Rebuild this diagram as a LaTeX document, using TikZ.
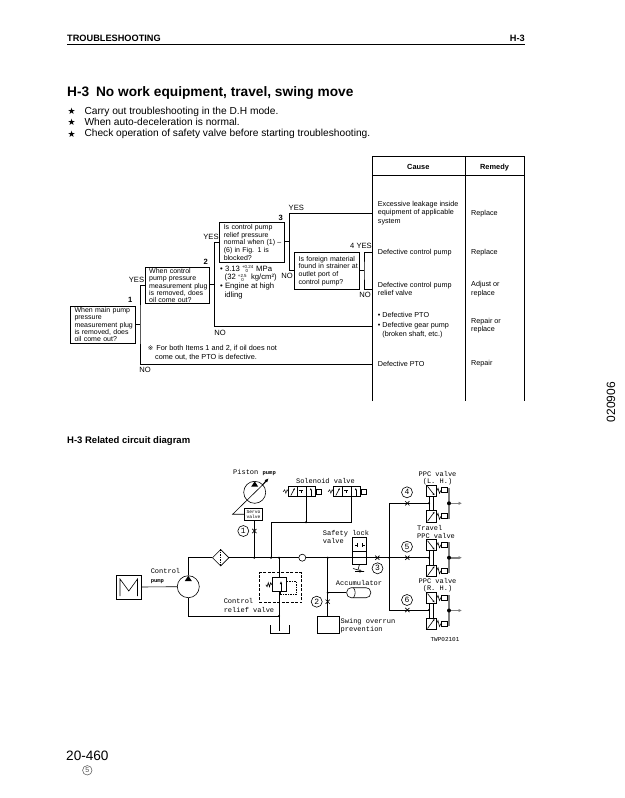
\documentclass[tikz,border=0pt]{standalone}
\usepackage{fontspec}
\setmainfont{Liberation Sans}
\newfontfamily\mono{Liberation Mono}
\newfontfamily\dejavu{DejaVu Sans}
\usetikzlibrary{shapes.geometric,shapes.misc,arrows.meta}
\tikzset{
 qbox/.style={draw,line width=1pt,anchor=north west,inner sep=0pt,align=left,font=\fontsize{7}{7.3}\selectfont},
 txt/.style={anchor=west,inner sep=0pt,align=left},
 flowtxt/.style={txt,font=\fontsize{7.4}{8.8}\selectfont},
 lab/.style={anchor=center,inner sep=0pt,font=\fontsize{7.6}{8}\selectfont},
 num/.style={anchor=center,inner sep=0pt,font=\bfseries\fontsize{7.6}{8}\selectfont},
 flow/.style={line width=0.9pt},
 tableline/.style={line width=0.9pt},
 circ/.style={anchor=center,inner sep=0pt,align=left,font=\mono\fontsize{7}{8.2}\selectfont},
 hyd/.style={line width=0.6pt},
 numc/.style={draw,circle,line width=0.6pt,minimum size=11pt,inner sep=0pt,font=\mono\fontsize{8}{8}\selectfont},
 cross/.style={cross out,draw,line width=0.7pt,minimum size=3.5pt,inner sep=0pt},
 dot/.style={circle,fill=black,minimum size=2.2pt,inner sep=0pt},
}
\newcommand{\stk}[2]{\smash{\rlap{\raisebox{2.3pt}{\fontsize{4.4}{5}\selectfont #1}}\raisebox{-1.6pt}{\fontsize{4.4}{5}\selectfont\hspace{3.5pt}#2}}}
\newcommand{\solv}[1]{%
 \begin{scope}[shift={(#1,0)},hyd]
  \draw[line width=0.8pt] (0,486.7) rectangle (26.7,496.7);
  \draw (8.7,486.7)--(8.7,496.7) (17.7,486.7)--(17.7,496.7);
  \draw[-{Latex[length=2pt,width=2pt]}] (2.5,495.5)--(6.5,488);
  \draw (11,490.5)--(15,490.5) (13,490.5)--(13,493);
  \draw[-{Latex[length=2pt,width=2pt]}] (22.5,495.5)--(22.5,488);
  \draw[line width=0.45pt] (0,491.7)--(-1.2,489.7)--(-2.4,493.3)--(-3.6,489.7)--(-5.2,491.7);
  \draw[line width=1pt] (28.4,489)rectangle(33.4,494);
  \draw (26.7,491.5)--(28.4,491.5);
 \end{scope}}
\newcommand{\ppc}[1]{%
 \begin{scope}[shift={(0,#1)},hyd]
  \draw[line width=0.8pt] (426,-18.3) rectangle (436.5,-7);
  \draw[line width=0.8pt] (426,7.4) rectangle (436.5,19);
  \draw[-{Latex[length=2pt,width=2pt]}] (427.5,-17)--(434.5,-8);
  \draw[-{Latex[length=2pt,width=2pt]}] (427.5,18)--(434.5,8.5);
  \draw (429,-7)--(429,7.4);
  \draw[line width=1pt] (433,-7)--(433,7.4);
  \draw (436.5,-12)--(438,-15)--(439.5,-10)--(441,-13);
  \draw (436.5,13)--(438,10)--(439.5,16)--(441,13);
  \draw[line width=0.9pt] (441,-15.5) rectangle (447.5,-10.5);
  \draw[line width=0.9pt] (441,10.5) rectangle (447.5,15.5);
  \draw[line width=2pt,black!50] (449,-15.5)--(449,15.5);
  \draw[line width=1.6pt,black!50,-{Latex[length=3.5pt,width=3.5pt]}] (449,0)--(462,0);
  \fill (449,0) circle (2);
 \end{scope}}
\begin{document}
\begin{tikzpicture}[x=1pt,y=-1pt]
\useasboundingbox (0,0) rectangle (624,798);
% page header
\node[txt,font=\bfseries\fontsize{9.2}{10}\selectfont] (hdr) at (67,38.5) {TROUBLESHOOTING};
\node[anchor=east,inner sep=0pt,font=\bfseries\fontsize{9.2}{10}\selectfont] (hdrr) at (525,38.5) {H-3};
\draw[line width=1pt] (67,44.5)--(525,44.5);
\node[txt,font=\bfseries\fontsize{13.7}{15}\selectfont] (title) at (67,92.7) {H-3\hspace{3pt} No work equipment, travel, swing move};
\foreach \y/\t [count=\i] in {111.7/Carry out troubleshooting in the D.H mode.,122.3/When auto-deceleration is normal.,134/Check operation of safety valve before starting troubleshooting.}{
 \node[txt,font=\dejavu\fontsize{9}{10}\selectfont] (st\i) at (67.5,\y) {★};
 \node[txt,font=\fontsize{10.2}{11}\selectfont] (bl\i) at (84.3,\y) {\t};
}
% table
\draw[tableline] (372,401)--(372,156.7)--(524,156.7)--(524,401);
\draw[tableline] (372,175.5)--(524,175.5) (465.3,156.7)--(465.3,401);
\node[num,font=\bfseries\fontsize{7.4}{8}\selectfont] (cause) at (418.3,167.3) {Cause};
\node[num,font=\bfseries\fontsize{7.4}{8}\selectfont] (remedy) at (494.5,167.3) {Remedy};
\node[flowtxt,font=\fontsize{7.2}{8.7}\selectfont] (c1) at (377.7,213) {Excessive leakage inside\\equipment of applicable\\system};
\node[flowtxt,font=\fontsize{7.2}{8.7}\selectfont] (c2) at (377.7,252.7) {Defective control pump};
\node[flowtxt,font=\fontsize{7.2}{8.7}\selectfont] (c3) at (377.7,289) {Defective control pump\\relief valve};
\node[flowtxt,font=\fontsize{7.2}{9.2}\selectfont] (c4) at (377.7,325.3) {• Defective PTO\\• Defective gear pump\\\hspace*{4.5pt}(broken shaft, etc.)};
\node[flowtxt,font=\fontsize{7.2}{8.7}\selectfont] (c5) at (377.7,363.7) {Defective PTO};
\node[flowtxt,font=\fontsize{7.2}{8.7}\selectfont] (r1) at (471,213.5) {Replace};
\node[flowtxt,font=\fontsize{7.2}{8.7}\selectfont] (r2) at (471,253) {Replace};
\node[flowtxt,font=\fontsize{7.2}{8.7}\selectfont] (r3) at (471,289) {Adjust or\\replace};
\node[flowtxt,font=\fontsize{7.2}{8.7}\selectfont] (r4) at (471,325.5) {Repair or\\replace};
\node[flowtxt,font=\fontsize{7.2}{8.7}\selectfont] (r5) at (471,363.7) {Repair};
% question boxes
\node[qbox,minimum width=65pt,minimum height=37.5pt,text width=62pt] (q1) at (70,305.5) {\hspace*{2.5pt}When main pump\\\hspace*{2.5pt}pressure\\\hspace*{2.5pt}measurement plug\\\hspace*{2.5pt}is removed, does\\\hspace*{2.5pt}oil come out?};
\node[qbox,minimum width=64.3pt,minimum height=36.6pt,text width=62pt] (q2) at (145,266.7) {\hspace*{2.5pt}When control\\\hspace*{2.5pt}pump pressure\\\hspace*{2.5pt}measurement plug\\\hspace*{2.5pt}is removed, does\\\hspace*{2.5pt}oil come out?};
\node[qbox,minimum width=65pt,minimum height=39.7pt,text width=62pt,font=\fontsize{7}{7.7}\selectfont] (q3) at (219.3,222) {\hspace*{2.5pt}Is control pump\\\hspace*{2.5pt}relief pressure\\\hspace*{2.5pt}normal when (1) –\\\hspace*{2.5pt}(6) in Fig. 1 is\\\hspace*{2.5pt}blocked?};
\node[qbox,minimum width=64.7pt,minimum height=37.6pt,text width=62pt,font=\fontsize{7}{7.8}\selectfont] (q4) at (294.3,251.7) {\hspace*{2.5pt}Is foreign material\\\hspace*{2.5pt}found in strainer at\\\hspace*{2.5pt}outlet port of\\\hspace*{2.5pt}control pump?};
\coordinate (e1) at (372,213.5);
\coordinate (e2) at (372,252);
\coordinate (e3) at (372,289);
\coordinate (e4) at (372,326.7);
\coordinate (e5) at (372,364);
\coordinate (b1) at (140,324);
\coordinate (b2) at (214.5,284.7);
\coordinate (b3) at (289.3,241.7);
\coordinate (b4) at (364,270.5);
\draw[flow] (q1.east|-b1)--(b1);
\draw[flow] (q2.west|-0,285)-|(b1)|-(e5);
\draw[flow] (q2.east|-b2)--(b2);
\draw[flow] (q3.west|-0,242.7)-|(b2)|-(e4);
\draw[flow] (q3.east|-b3)--(b3);
\draw[flow] (q4.west|-0,270)-|(b3)|-(e1);
\draw[flow] (q4.east|-b4)--(b4);
\draw[flow] (e2)-|(b4)|-(e3);
% flow labels
\node[num] (n1) at (130.3,300) {1};
\node[num] (n2) at (205.7,261.7) {2};
\node[num] (n3) at (280.7,217.7) {3};
\node[lab] (y2) at (136.5,280) {YES};
\node[lab] (y3) at (211,237.3) {YES};
\node[lab] (y1) at (296.3,208.3) {YES};
\node[lab] (y4) at (361,246) {4 YES};
\node[lab] (no3) at (287,276) {NO};
\node[lab] (no4) at (365,294.5) {NO};
\node[lab] (no2) at (220,333) {NO};
\node[lab] (no1) at (145,370) {NO};
\node[flowtxt,font=\fontsize{7.7}{8.6}\selectfont] (spec) at (220,282.3) {• 3.13 \stk{+0.24}{0}\hspace{6pt} MPa\\\hspace*{4.5pt}(32 \stk{+2.5}{0}\hspace{5pt} kg/cm²)\\• Engine at high\\\hspace*{4.5pt}idling};
\node[txt,font=\fontsize{7.3}{9}\selectfont] (note) at (147.7,352.5) {{\dejavu\fontsize{6.5}{8}\selectfont ※}\hspace{1pt} For both Items 1 and 2, if oil does not\\\hspace*{7.3pt}come out, the PTO is defective.};
% side code and footer
\node[inner sep=0pt,rotate=90,font=\fontsize{12}{13}\selectfont] (code) at (611,402) {020906};
\node[txt,font=\fontsize{13.6}{15}\selectfont] (page) at (66,756) {20-460};
\node[draw,circle,black!70,line width=0.5pt,minimum size=9.5pt,inner sep=0pt,font=\fontsize{7}{7}\selectfont] (rev) at (87.3,770.3) {5};
\node[txt,font=\bfseries\fontsize{9.5}{10}\selectfont] (rel) at (67,441) {H-3 Related circuit diagram};
% ---- circuit ----
\node[draw,hyd,minimum width=24.3pt,minimum height=24pt,inner sep=0pt] (motor) at (128.8,587) {};
\draw[hyd] (120,596)--(120,579)--(128.8,591)--(137.5,579)--(137.5,596);
\node[draw,hyd,circle,minimum size=22pt,inner sep=0pt] (cpump) at (188.3,586.7) {};
\fill (188.3,575.7)--(191.8,581)--(184.8,581)--cycle;
\draw[hyd] (motor.east)--(cpump.west);
\node[draw,hyd,diamond,minimum width=16.6pt,minimum height=16.6pt,inner sep=0pt] (filter) at (220.7,557.7) {};
\draw[hyd,dash pattern=on 1.5pt off 1pt] (filter.north)--(filter.south);
\coordinate (j1) at (254.3,557.7);
\coordinate (j2) at (271,557.7);
\coordinate (j3) at (279,557.7);
\coordinate (j4) at (327.7,557.7);
\coordinate (j5) at (389.3,557.7);
\coordinate (ppcin2) at (429,557.7);
\coordinate (ppcin1) at (429,503.3);
\coordinate (ppcin3) at (429,610);
\coordinate (tk) at (279,616);
\draw[hyd] (cpump.north)|-(filter.west);
\draw[hyd] (filter.east)--(ppcin2);
\node[draw,hyd,circle,fill=white,minimum size=7pt,inner sep=0pt] (chk) at (302.3,557.7) {};
\draw[hyd] (cpump.south)|-(tk);
\foreach \c in {j1,j2,j3,j4,j5,tk}{\node[dot] at (\c) {};}
% piston pump & servo
\node[draw,hyd,circle,minimum size=22pt,inner sep=0pt] (ppump) at (254.7,492.3) {};
\fill (254.7,481.3)--(258.2,486.7)--(251.2,486.7)--cycle;
\node[draw,hyd,minimum width=18.4pt,minimum height=11.7pt,inner sep=0pt,font=\mono\fontsize{4.6}{5}\selectfont,align=center] (servo) at (253.5,514.2) {Servo\\valve};
\coordinate (sw) at (232.7,514.2);
\coordinate (pa) at (268.6,478.3);
\draw[hyd] (servo.west)--(sw)--(262,485.5);
\draw[line width=1.1pt,-{Latex[length=4pt,width=3.5pt]}] (262,485.5)--(pa);
\coordinate (srv) at (254.3,520);
\draw[hyd] (srv)--(j1);
\node[cross] (x1) at (254.3,531) {};
\node[numc] (c1n) at (243.3,531) {1};
% solenoids
\solv{288.3}
\solv{333.3}
\coordinate (s1) at (306,496.7);
\coordinate (s2) at (351,496.7);
\coordinate (sj) at (306,522.3);
\draw[hyd] (j2)|-(sj)--(s1);
\draw[hyd] (sj)-|(s2);
\node[dot] at (sj) {};
% relief valve
\node[draw,hyd,dash pattern=on 3pt off 1.5pt,minimum width=42.4pt,minimum height=30pt,inner sep=0pt] (rbox) at (280.5,587.7) {};
\draw[hyd] (j3)--(279,577.7);
\node[draw,line width=0.9pt,minimum width=14.4pt,minimum height=14pt,inner sep=0pt] (rv) at (279.5,584.7) {};
\draw[-{Latex[length=3pt,width=2.5pt]},line width=0.8pt] (281,590.5)--(281,581);
\draw[hyd] (rv.west)--++(-1.2,-2)--++(-1.2,4)--++(-1.2,-4)--++(-1.2,4)--++(-1.2,-2);
\draw[hyd,dash pattern=on 1.5pt off 1pt] (286.7,581.7)--(296.7,581.7)--(296.7,594.3)--(280,594.3)--(280,591.7);
\draw[hyd] (279,591.7)--(279,631);
\draw[hyd] (270,625)--(270,633.3)--(289,633.3)--(289,625);
% safety lock valve
\node[draw,line width=0.8pt,minimum width=14.4pt,minimum height=26.6pt,inner sep=0pt] (safety) at (359.5,551) {};
\draw[hyd] (352.3,551)--(366.7,551);
\draw[hyd] (354.5,545)--(357,545) (357,543)--(357,547) (364.5,545)--(362,545) (362,543)--(362,547);
\draw[hyd] (359.5,564.3)--(358,570)--(353,568.5) (355,571.5)--(364,571.5);
\draw[hyd] (360,571) circle (1.2);
\node[cross] (x3) at (377.3,557.7) {};
\node[numc] (c3n) at (377.5,568.3) {3};
% branches to PPC valves
\draw[hyd] (ppcin1)-|(j5)|-(ppcin3);
\node[cross] (x4) at (407.3,503.3) {};
\node[cross] (x5) at (407.3,557.7) {};
\node[cross] (x6) at (407.3,610) {};
\node[numc] (c4n) at (407,492.3) {4};
\node[numc] (c5n) at (407,546.7) {5};
\node[numc] (c6n) at (407,600) {6};
\foreach \c in {ppcin1,ppcin2,ppcin3}{\node[dot] at (\c) {};}
\ppc{503.3}
\ppc{557.7}
\ppc{610.5}
% accumulator and swing box
\node[draw,hyd,minimum width=22pt,minimum height=16.6pt,inner sep=0pt] (swing) at (328.3,625) {};
\coordinate (sw2) at (327.7,616.7);
\draw[hyd] (j4)--(sw2);
\node[draw,hyd,rounded corners=4.5pt,minimum width=24pt,minimum height=10pt,inner sep=0pt] (acc) at (358.7,592.7) {};
\draw[hyd] (353.5,587.7) to[bend left=35] (353.5,597.7);
\draw[hyd] (acc.west)--(327.7,592.7);
\node[dot] at (327.7,592.7) {};
\node[cross] (x2) at (327.7,601.7) {};
\node[numc] (c2n) at (316.7,601.7) {2};
% circuit labels
\node[circ] (lp) at (254.5,472.3) {Piston {\fontsize{5.5}{6}\selectfont\bfseries pump}};
\node[circ] (ls) at (325.5,481.5) {Solenoid valve};
\node[circ,align=center,font=\mono\fontsize{7}{7.5}\selectfont] (lppc1) at (437.5,478) {PPC valve\\(L. H.)};
\node[circ,align=left] (ltr) at (436,532) {Travel\\PPC valve};
\node[circ,align=center,font=\mono\fontsize{7}{7}\selectfont] (lppc3) at (437.5,585) {PPC valve\\(R. H.)};
\node[circ] (lsl) at (346,537) {Safety lock\\valve};
\node[circ] (la) at (359,582.7) {Accumulator};
\node[circ] (lsw) at (368,626) {Swing overrun\\prevention};
\node[circ] (lcp) at (165.5,576) {Control\\{\fontsize{5.5}{6}\selectfont\bfseries pump}};
\node[circ] (lcr) at (249,605.5) {Control\\relief valve};
\node[circ,font=\mono\fontsize{6}{7}\selectfont] (ltw) at (445,639.3) {TWP02101};
\end{tikzpicture}
\end{document}
